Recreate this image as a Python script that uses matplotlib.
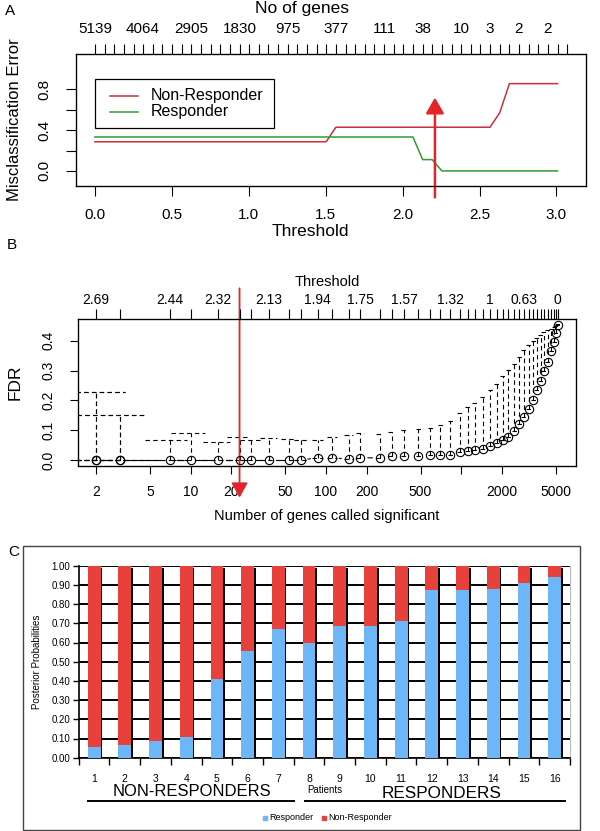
import matplotlib
matplotlib.use("Agg")
import numpy as np
import matplotlib.pyplot as plt
from matplotlib.patches import Rectangle
from matplotlib.ticker import NullLocator, FixedLocator

plt.rcParams['font.family'] = ['Liberation Sans', 'DejaVu Sans']

W, H = 600, 831

# ---------------- Panel A: CV misclassification error vs threshold ----------------
thresholds = [0.000, 0.063, 0.125, 0.188, 0.251, 0.313, 0.376, 0.438, 0.501, 0.564,
              0.626, 0.689, 0.752, 0.814, 0.877, 0.940, 1.002, 1.065, 1.128, 1.190,
              1.253, 1.315, 1.378, 1.441, 1.503, 1.566, 1.629, 1.691, 1.754, 1.817,
              1.879, 1.942, 2.004, 2.067, 2.130, 2.192, 2.255, 2.318, 2.380, 2.443,
              2.506, 2.568, 2.631, 2.694, 2.756, 2.819, 2.881, 2.944, 3.007, 3.069]
err_nonresponder = [0.286] * 25 + [0.429] * 17 + [0.571] + [0.857] * 6
err_responder = [0.333] * 34 + [0.111] * 2 + [0.0] * 13
size_label_idx = [0, 5, 10, 15, 20, 25, 30, 34, 38, 41, 44, 47]
size_labels = ['5139', '4064', '2905', '1830', '975', '377', '111', '38', '10', '3', '2', '2']
arrow_a_threshold = 2.21

# ---------------- Panel B: FDR vs number of genes ----------------
n_genes = [5139, 5010, 4850, 4620, 4350, 4064, 3850, 3620, 3400, 3150,
           2905, 2680, 2460, 2230, 2025, 1830, 1635, 1435, 1260, 1120,
           975, 830, 700, 590, 480, 377, 305, 250, 180, 147,
           111, 87, 65, 53, 38, 28, 23, 16, 10, 7,
           3, 3, 2, 2]
fdr_median = [0.453, 0.427, 0.397, 0.367, 0.330, 0.300, 0.265, 0.235, 0.202, 0.172,
              0.146, 0.121, 0.096, 0.079, 0.068, 0.057, 0.048, 0.038, 0.034, 0.029,
              0.026, 0.018, 0.018, 0.0155, 0.012, 0.012, 0.012, 0.007, 0.008, 0.003,
              0.008, 0.008, 0.0, 0.0, 0.0, 0.0, 0.0, 0.0, 0.0, 0.0,
              0.0, 0.0, 0.0, 0.0]
fdr_90 = [0.455, 0.450, 0.446, 0.440, 0.435, 0.430, 0.420, 0.410, 0.400, 0.385,
          0.368, 0.345, 0.322, 0.302, 0.283, 0.255, 0.235, 0.212, 0.192, 0.177,
          0.157, 0.132, 0.118, 0.107, 0.104, 0.101, 0.094, 0.086, 0.090, 0.085,
          0.079, 0.068, 0.068, 0.070, 0.0735, 0.067, 0.079, 0.059, 0.092, 0.067,
          0.151, 0.151, 0.229, 0.229]
thr_label_idx = [0, 10, 16, 21, 25, 28, 31, 34, 37, 39, 43]
thr_labels = ['0', '0.63', '1', '1.32', '1.57', '1.75', '1.94', '2.13', '2.32', '2.44', '2.69']
arrow_b_genes = 23

# ---------------- Panel C: posterior probabilities ----------------
patients = [str(i) for i in range(1, 17)]
p_responder = [0.054, 0.066, 0.089, 0.109, 0.411, 0.557, 0.668, 0.595,
               0.686, 0.688, 0.710, 0.875, 0.875, 0.877, 0.911, 0.941]
p_nonresponder = [1 - p for p in p_responder]


def px_box(l, t, r, b):
    return [l / W, 1 - b / H, (r - l) / W, (b - t) / H]


fig = plt.figure(figsize=(W / 100, H / 100), dpi=100)

# overlay in pixel coordinates for free text and decorations
ov = fig.add_axes([0, 0, 1, 1], zorder=10)
ov.set_xlim(0, W)
ov.set_ylim(H, 0)
ov.axis('off')
ov.patch.set_alpha(0)

# ================= Panel A =================
axA = fig.add_axes(px_box(76, 54, 586, 186))
red_line = '#C8323C'
green_line = '#2E9E2E'
axA.plot(thresholds[:len(err_nonresponder)], err_nonresponder, color=red_line, lw=1.1)
axA.plot(thresholds[:len(err_responder)], err_responder, color=green_line, lw=1.1)
span = thresholds[-1] - thresholds[0]
axA.set_xlim(thresholds[0] - 0.04 * span, thresholds[-1] + 0.04 * span)
axA.set_ylim(-0.1 - 0.048, 1.1 + 0.048)
axA.set_xticks([0, 0.5, 1.0, 1.5, 2.0, 2.5, 3.0])
axA.set_xticklabels(['0.0', '0.5', '1.0', '1.5', '2.0', '2.5', '3.0'])
axA.set_yticks([0, 0.2, 0.4, 0.6, 0.8])
axA.set_yticklabels(['0.0', '', '0.4', '', '0.8'], rotation=90, va='center')
axA.tick_params(axis='x', direction='out', length=7, width=0.8, labelsize=11, pad=9)
axA.tick_params(axis='y', direction='out', length=7, width=0.8, labelsize=11, pad=11)
for s in axA.spines.values():
    s.set_linewidth(0.9)

topA = axA.twiny()
topA.set_xlim(axA.get_xlim())
topA.xaxis.set_major_locator(FixedLocator(thresholds))
lab = [''] * len(thresholds)
for i, t in zip(size_label_idx, size_labels):
    lab[i] = t
topA.set_xticklabels(lab)
topA.tick_params(axis='x', direction='out', length=7, width=0.8, labelsize=11, pad=6)

# legend (R style box)
axA.add_patch(Rectangle((0, 0.422), 1.162, 0.478, fill=False, ec='black', lw=0.9))
axA.plot([0.097, 0.279], [0.739, 0.739], color=red_line, lw=1.1)
axA.plot([0.097, 0.279], [0.582, 0.582], color=green_line, lw=1.1)
axA.text(0.364, 0.739, 'Non-Responder', fontsize=11.5, va='center', ha='left')
axA.text(0.364, 0.582, 'Responder', fontsize=11.5, va='center', ha='left')

axA.annotate('', xy=(arrow_a_threshold, 0.72), xytext=(arrow_a_threshold, -0.26),
             arrowprops=dict(arrowstyle='-|>,head_length=0.95,head_width=0.55',
                             color='#E5232B', lw=1.8, shrinkA=0, shrinkB=0),
             annotation_clip=False)

ov.text(10, 11, 'A', fontsize=11, ha='center', va='center')
ov.text(302, 9, 'No of genes', fontsize=12.5, ha='center', va='center')
ov.text(310, 231, 'Threshold', fontsize=12.5, ha='center', va='center')
ov.text(15, 120, 'Misclassification Error', fontsize=12, ha='center', va='center',
        rotation=90)

# ================= Panel B =================
axB = fig.add_axes(px_box(77.5, 319, 576, 465.5))
axB.set_xscale('log')
lo, hi = np.log10(min(n_genes)), np.log10(max(n_genes))
axB.set_xlim(10 ** (lo - 0.04 * (hi - lo)), 10 ** (hi + 0.04 * (hi - lo)))
ymin, ymax = min(fdr_median), max(fdr_90)
axB.set_ylim(ymin - 0.04 * (ymax - ymin), ymax + 0.04 * (ymax - ymin))

axB.plot(n_genes, fdr_median, 'o', mfc='none', mec='black', ms=6, mew=0.8, zorder=4)

# type="b" connecting segments with gaps around the points
pts = axB.transData.transform(np.column_stack([n_genes, fdr_median]))
inv = axB.transData.inverted()
gap = 7.5
for p1, p2 in zip(pts[:-1], pts[1:]):
    d = p2 - p1
    L = np.hypot(*d)
    if L > 2 * gap:
        u = d / L
        a = inv.transform(p1 + u * gap)
        b = inv.transform(p2 - u * gap)
        axB.plot([a[0], b[0]], [a[1], b[1]], color='black', lw=0.8)

# dashed error bars with caps
dash = (0, (4, 3))
axB.vlines(n_genes, fdr_median, fdr_90, colors='black', linestyles=dash, lw=0.8)
xl = axB.get_xlim()
for x, lo_v, up_v in zip(n_genes, fdr_median, fdr_90):
    b = 0.9 * np.sqrt(x)
    left = max(x - b, xl[0] * 0.5)
    right = x + b
    left = min(left, x / 1.045)
    right = max(right, x * 1.045)
    axB.hlines([up_v, lo_v], left, right, colors='black', linestyles=dash, lw=0.8)

axB.xaxis.set_minor_locator(NullLocator())
bticks = [2, 5, 10, 20, 50, 100, 200, 500, 1000, 2000, 5000]
axB.xaxis.set_major_locator(FixedLocator(bticks))
axB.set_xticklabels(['2', '5', '10', '20', '50', '100', '200', '500', '', '2000', '5000'])
axB.set_yticks([0, 0.1, 0.2, 0.3, 0.4])
axB.set_yticklabels(['0.0', '0.1', '0.2', '0.3', '0.4'], rotation=90, va='center')
axB.tick_params(axis='x', direction='out', length=6, width=0.8, labelsize=10, pad=8)
axB.tick_params(axis='y', direction='out', length=6, width=0.8, labelsize=10, pad=10)
for s in axB.spines.values():
    s.set_linewidth(0.9)

# top axis: one tick per distinct gene count, threshold labels where R kept them
tick_labels = {}
for g in n_genes:
    tick_labels.setdefault(g, '')
for i, t in zip(thr_label_idx, thr_labels):
    tick_labels[n_genes[i]] = t
top_pos = sorted(tick_labels)
topB = axB.twiny()
topB.set_xscale('log')
topB.set_xlim(axB.get_xlim())
topB.xaxis.set_minor_locator(NullLocator())
topB.xaxis.set_major_locator(FixedLocator(top_pos))
topB.set_xticklabels([tick_labels[g] for g in top_pos])
topB.tick_params(axis='x', direction='out', length=7, width=0.8, labelsize=10, pad=1.5)

axB.annotate('', xy=(arrow_b_genes, -0.126), xytext=(arrow_b_genes, 0.576),
             arrowprops=dict(arrowstyle='-|>,head_length=0.9,head_width=0.5',
                             color='#E0242A', lw=1.3, shrinkA=0, shrinkB=0),
             annotation_clip=False)

ov.text(12, 245, 'B', fontsize=11, ha='center', va='center')
ov.text(327, 282, 'Threshold', fontsize=10.5, ha='center', va='center')
ov.text(15, 382, 'FDR', fontsize=12.5, ha='center', va='center', rotation=90)
ov.text(327, 516, 'Number of genes called significant', fontsize=10.5,
        ha='center', va='center')

# ================= Panel C =================
axC = fig.add_axes(px_box(78.8, 565.7, 570, 757.7))
xc = np.arange(len(patients))
bw = 0.42
blue = '#6DB6F7'
red = '#E8403A'
tops = [r + n for r, n in zip(p_responder, p_nonresponder)]
axC.bar(xc + 0.055, [t - 0.011 for t in tops], width=bw, color='black', zorder=2)
axC.bar(xc, p_responder, width=bw, color=blue, zorder=3)
axC.bar(xc, p_nonresponder, bottom=p_responder, width=bw, color=red, zorder=3)
for yv in np.arange(0, 1.01, 0.1):
    axC.axhline(yv, color='black', lw=1.4, zorder=1)
axC.set_xlim(-0.5, len(patients) - 0.5)
axC.set_ylim(0, 1.0)
axC.set_yticks(np.arange(0, 1.01, 0.1))
axC.set_yticklabels(['%.2f' % v for v in np.arange(0, 1.01, 0.1)])
axC.xaxis.set_major_locator(FixedLocator(np.arange(-0.5, len(patients), 1.0)))
axC.xaxis.set_minor_locator(FixedLocator(xc))
axC.set_xticklabels([])
axC.set_xticklabels(patients, minor=True)
axC.tick_params(axis='x', which='major', direction='out', length=5, width=1)
axC.tick_params(axis='x', which='minor', length=0, labelsize=7.5, pad=12)
axC.tick_params(axis='y', direction='out', length=4, width=1, labelsize=7, pad=2)
axC.spines['top'].set_visible(False)
axC.spines['right'].set_color('#BBBBBB')
axC.spines['left'].set_linewidth(1.2)
axC.spines['bottom'].set_linewidth(1.2)
axC.set_ylabel('Posterior Probabilities', fontsize=7)
axC.yaxis.set_label_coords(-0.075, 0.5)

ov.add_patch(Rectangle((23, 545.7), 557, 284, fill=False, ec='#444444', lw=1))
ov.text(13.5, 552, 'C', fontsize=11, ha='center', va='center')
ov.text(192, 791, 'NON-RESPONDERS', fontsize=12, ha='center', va='center')
ov.plot([87.7, 294], [801, 801], color='black', lw=1.4)
ov.text(325, 790, 'Patients', fontsize=7, ha='center', va='center')
ov.text(442, 793, 'RESPONDERS', fontsize=12.3, ha='center', va='center')
ov.plot([305, 565], [800.7, 800.7], color='black', lw=1.4)
ov.add_patch(Rectangle((263, 815.5), 4, 4.5, color=blue))
ov.text(269, 817.7, 'Responder', fontsize=6.5, ha='left', va='center')
ov.add_patch(Rectangle((322, 815.5), 4, 4.5, color=red))
ov.text(328, 817.7, 'Non-Responder', fontsize=6.5, ha='left', va='center')

fig.savefig('out.png', dpi=100)
